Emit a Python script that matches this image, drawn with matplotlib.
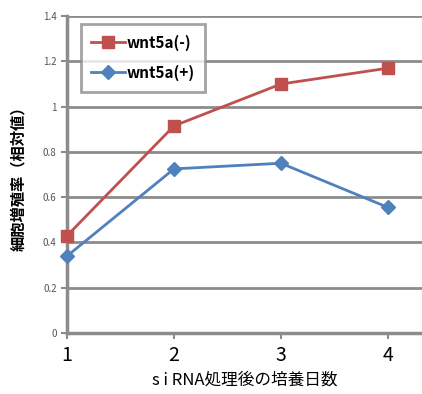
import numpy as np
import matplotlib.pyplot as plt

plt.rcParams['font.family'] = ['Noto Sans CJK JP', 'DejaVu Sans']

# data
days = [1, 2, 3, 4]
wntMinus = [0.43, 0.915, 1.10, 1.17]
wntPlus = [0.34, 0.725, 0.75, 0.555]
yTicks = [0, 0.2, 0.4, 0.6, 0.8, 1, 1.2, 1.4]
yTickLabels = ['0', '0.2', '0.4', '0.6', '0.8', '1', '1.2', '1.4']

red = '#c0504d'
blue = '#4f81bd'
gridGray = '#8c8c8c'

fig = plt.figure(figsize=(4.22, 3.94), dpi=100)
ax = fig.add_axes([0.159, 0.155, 0.841, 0.804])

for y in yTicks[1:]:
    ax.axhline(y, color=gridGray, lw=2, zorder=1)

ax.plot(days, wntMinus, color=red, lw=2, marker='s', ms=9, label='wnt5a(-)', zorder=3, clip_on=False)
ax.plot(days, wntPlus, color=blue, lw=2, marker='D', ms=7, label='wnt5a(+)', zorder=3, clip_on=False)

ax.set_xlim(1, 4.32)
ax.set_ylim(0, 1.4)
ax.set_yticks(yTicks)
ax.set_yticklabels(yTickLabels)
ax.set_xticks(days)
ax.tick_params(axis='y', labelsize=7, colors='#555555', length=4, width=1.5, direction='out')
ax.tick_params(axis='y', color=gridGray)
ax.tick_params(axis='x', labelsize=14, length=4, width=1.5, color=gridGray, pad=5)

for side in ['top', 'right']:
    ax.spines[side].set_visible(False)
for side in ['left', 'bottom']:
    ax.spines[side].set_color(gridGray)
    ax.spines[side].set_linewidth(2.5)

ax.set_xlabel('s i RNA処理後の培養日数', fontsize=12, labelpad=4)
ax.set_ylabel('細胞増殖率（相対値）', fontsize=11, fontweight='bold', labelpad=12)

leg = ax.legend(loc='upper left', bbox_to_anchor=(0.03, 0.985), frameon=True,
                fancybox=False, handlelength=2.2, handletextpad=0.1, borderpad=0.7,
                labelspacing=0.9, borderaxespad=0.2,
                prop={'weight': 'bold', 'size': 11})
leg.get_frame().set_edgecolor(gridGray)
leg.get_frame().set_linewidth(2)

plt.savefig('out.png', dpi=100)
